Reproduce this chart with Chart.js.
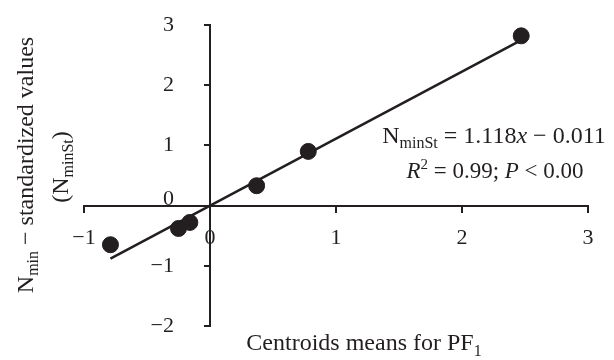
<!DOCTYPE html>
<html>
<head>
<meta charset="utf-8">
<script src="https://cdn.jsdelivr.net/npm/chart.js@4"></script>
<style>
  html, body { margin: 0; padding: 0; background: #ffffff; }
  #wrap { width: 614px; height: 360px; }
</style>
</head>
<body>
<div id="wrap"><canvas id="c" width="614" height="360"></canvas></div>
<script>
// Data
const pointsX = [-0.79, -0.25, -0.16, 0.37, 0.78, 2.47];
const pointsY = [-0.65, -0.38, -0.28, 0.33, 0.90, 2.82];
const fitX = [-0.79, 2.47];
const fitY = [-0.88, 2.75];
const xTicks = [-1, 0, 1, 2, 3];
const yTicks = [-2, -1, 0, 1, 2, 3];

const INK = '#231f20';
const FONT = '"Liberation Serif", "Times New Roman", serif';

function fmt(v) { return v < 0 ? '\u2212' + Math.abs(v) : String(v); }

function drawRich(ctx, segs, x, y, align) {
  let w = 0;
  segs.forEach(s => {
    ctx.font = (s.italic ? 'italic ' : '') + s.size + 'px ' + FONT;
    s.w = ctx.measureText(s.t).width;
    w += s.w;
  });
  let cx = align === 'center' ? x - w / 2 : (align === 'right' ? x - w : x);
  ctx.textAlign = 'left';
  ctx.textBaseline = 'alphabetic';
  ctx.fillStyle = INK;
  segs.forEach(s => {
    ctx.font = (s.italic ? 'italic ' : '') + s.size + 'px ' + FONT;
    ctx.fillText(s.t, cx, y + (s.dy || 0));
    cx += s.w;
  });
}

const textPlugin = {
  id: 'texts',
  afterDraw(chart) {
    const ctx = chart.ctx;
    const xs = chart.scales.x, ys = chart.scales.y;
    const axisX = xs.getPixelForValue(0);
    ctx.save();
    // Y tick marks and labels
    ctx.strokeStyle = INK;
    ctx.lineWidth = 2;
    ctx.fillStyle = INK;
    ctx.font = '22px ' + FONT;
    ctx.textAlign = 'right';
    ctx.textBaseline = 'middle';
    yTicks.forEach(v => {
      const py = Math.round(ys.getPixelForValue(v));
      ctx.beginPath();
      ctx.moveTo(axisX - 6, py);
      ctx.lineTo(axisX, py);
      ctx.stroke();
      ctx.fillText(fmt(v), axisX - 36, v === 0 ? py - 7 : py);
    });
    // X axis title
    drawRich(ctx, [
      {t: 'Centroids means for PF', size: 24},
      {t: '1', size: 16, dy: 6}
    ], 364, 350, 'center');
    // Regression annotation
    drawRich(ctx, [
      {t: 'N', size: 24},
      {t: 'minSt', size: 16, dy: 5},
      {t: ' = 1.118', size: 24},
      {t: 'x', size: 24, italic: true},
      {t: ' \u2212 0.011', size: 24}
    ], 494, 143, 'center');
    drawRich(ctx, [
      {t: 'R', size: 23, italic: true},
      {t: '2', size: 15, dy: -9},
      {t: ' = 0.99; ', size: 23},
      {t: 'P', size: 23, italic: true},
      {t: ' < 0.00', size: 23}
    ], 495, 178, 'center');
    // Y axis title (rotated)
    ctx.save();
    ctx.translate(33, 165);
    ctx.rotate(-Math.PI / 2);
    drawRich(ctx, [
      {t: 'N', size: 24},
      {t: 'min', size: 16, dy: 5},
      {t: ' \u2212 standardized values', size: 24}
    ], 0, 0, 'center');
    ctx.restore();
    ctx.save();
    ctx.translate(68, 167);
    ctx.rotate(-Math.PI / 2);
    drawRich(ctx, [
      {t: '(N', size: 24},
      {t: 'minSt', size: 16, dy: 5},
      {t: ')', size: 24}
    ], 0, 0, 'center');
    ctx.restore();
    ctx.restore();
  }
};

const ctx = document.getElementById('c').getContext('2d');
new Chart(ctx, {
  type: 'scatter',
  data: {
    datasets: [
      {
        type: 'line',
        data: fitX.map((x, i) => ({x: x, y: fitY[i]})),
        borderColor: INK,
        borderWidth: 2.5,
        pointRadius: 0,
        fill: false,
        order: 2
      },
      {
        data: pointsX.map((x, i) => ({x: x, y: pointsY[i]})),
        backgroundColor: INK,
        borderColor: INK,
        pointRadius: 8,
        pointHoverRadius: 8,
        order: 1
      }
    ]
  },
  options: {
    responsive: false,
    devicePixelRatio: 1,
    animation: false,
    layout: { padding: { left: 84, right: 26, top: 25, bottom: 34 } },
    plugins: { legend: { display: false }, tooltip: { enabled: false } },
    scales: {
      x: {
        type: 'linear',
        position: { y: 0 },
        min: -1, max: 3,
        afterBuildTicks: s => { s.ticks = xTicks.map(v => ({value: v})); },
        grid: { drawOnChartArea: false, tickLength: 6, color: INK, lineWidth: 2 },
        border: { display: true, color: INK, width: 2 },
        ticks: {
          color: INK, padding: 13,
          font: { family: FONT, size: 22 },
          callback: v => fmt(v)
        }
      },
      y: {
        type: 'linear',
        position: { x: 0 },
        min: -2, max: 3,
        afterBuildTicks: s => { s.ticks = yTicks.map(v => ({value: v})); },
        grid: { display: false },
        border: { display: true, color: INK, width: 2 },
        ticks: { display: false }
      }
    }
  },
  plugins: [textPlugin]
});
</script>
</body>
</html>
